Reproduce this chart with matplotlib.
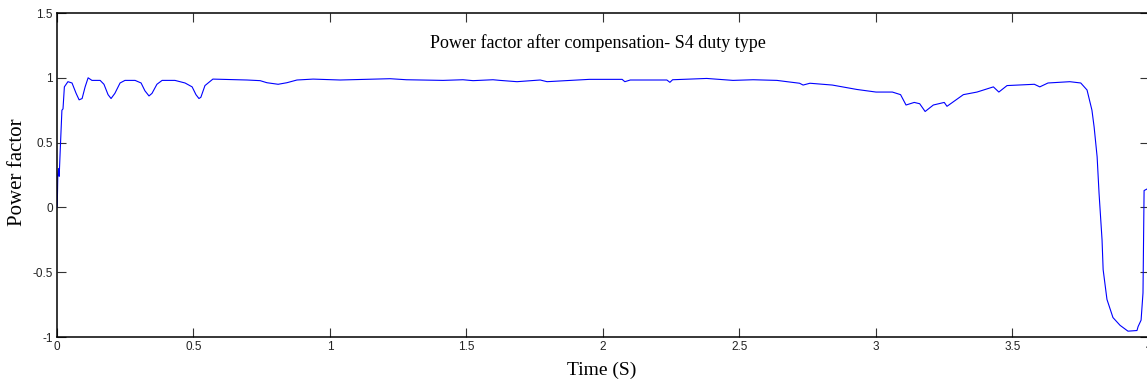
import numpy as np
import matplotlib.pyplot as plt

# Power factor trace (time in s, pf)
time_s = [0.000, 0.001, 0.003, 0.006, 0.008, 0.012, 0.018, 0.022, 0.027, 0.040,
          0.055, 0.070, 0.081, 0.092, 0.103, 0.114, 0.128, 0.158, 0.172, 0.187,
          0.198, 0.212, 0.231, 0.249, 0.286, 0.308, 0.322, 0.337, 0.348, 0.366,
          0.385, 0.432, 0.469, 0.495, 0.509, 0.520, 0.527, 0.542, 0.571, 0.696,
          0.744, 0.769, 0.810, 0.842, 0.879, 0.938, 1.037, 1.220, 1.280, 1.414,
          1.487, 1.524, 1.597, 1.623, 1.685, 1.770, 1.795, 1.950, 2.070, 2.080,
          2.100, 2.234, 2.245, 2.255, 2.380, 2.476, 2.550, 2.637, 2.674, 2.720,
          2.733, 2.758, 2.840, 2.930, 3.000, 3.060, 3.090, 3.110, 3.140, 3.160,
          3.180, 3.210, 3.250, 3.260, 3.280, 3.320, 3.370, 3.430, 3.450, 3.480,
          3.580, 3.600, 3.630, 3.710, 3.750, 3.773, 3.791, 3.799, 3.810, 3.817,
          3.828, 3.832, 3.846, 3.868, 3.894, 3.923, 3.956, 3.960, 3.971, 3.978,
          3.982, 4.000]
power_factor = [0.00, 0.02, 0.25, 0.30, 0.24, 0.45, 0.75, 0.76, 0.93, 0.97,
                0.96, 0.88, 0.83, 0.84, 0.93, 1.00, 0.98, 0.98, 0.95, 0.87,
                0.84, 0.88, 0.96, 0.98, 0.98, 0.96, 0.90, 0.86, 0.88, 0.95,
                0.98, 0.98, 0.96, 0.93, 0.87, 0.84, 0.85, 0.94, 0.99, 0.983,
                0.978, 0.962, 0.950, 0.962, 0.983, 0.990, 0.983, 0.993, 0.985, 0.980,
                0.985, 0.978, 0.985, 0.980, 0.970, 0.983, 0.970, 0.988, 0.988, 0.970,
                0.983, 0.983, 0.965, 0.985, 0.995, 0.980, 0.985, 0.980, 0.970, 0.958,
                0.944, 0.958, 0.944, 0.910, 0.890, 0.890, 0.870, 0.790, 0.810, 0.800,
                0.740, 0.790, 0.810, 0.780, 0.810, 0.870, 0.890, 0.930, 0.890, 0.940,
                0.950, 0.930, 0.960, 0.970, 0.960, 0.906, 0.750, 0.620, 0.390, 0.110,
                -0.250, -0.480, -0.710, -0.850, -0.910, -0.955, -0.950, -0.920, -0.870, -0.660,
                0.130, 0.150]

x_ticks = [0, 0.5, 1, 1.5, 2, 2.5, 3, 3.5, 4]
x_tick_labels = ['0', '0.5', '1', '1.5', '2', '2.5', '3', '3.5', '4']
y_ticks = [-1, -0.5, 0, 0.5, 1, 1.5]
y_tick_labels = ['-1', '-0.5', '0', '0.5', '1', '1.5']

fig = plt.figure(figsize=(11.47, 3.83), dpi=100)
ax = fig.add_axes([57 / 1147, 46 / 383, 1092 / 1147, 324 / 383])

ax.plot(time_s, power_factor, color='blue', lw=0.8)

ax.set_xlim(0, 4)
ax.set_ylim(-1, 1.5)
ax.set_xticks(x_ticks)
ax.set_xticklabels(x_tick_labels, fontfamily='Liberation Sans', fontsize=8.5, color='#222222')
ax.set_yticks(y_ticks)
ax.set_yticklabels(y_tick_labels, fontfamily='Liberation Sans', fontsize=8.5, color='#222222')
ax.tick_params(direction='in', top=True, right=True, length=6.5, width=0.8,
               color='#333333', pad=3)
for s in ax.spines.values():
    s.set_linewidth(1.1)

ax.set_xlabel('Time (S)', fontfamily='Liberation Serif', fontsize=14)
ax.xaxis.label.set_va('center')
ax.xaxis.set_label_coords(0.499, -0.102)
ax.set_ylabel('Power factor', fontfamily='Liberation Serif', fontsize=15)
ax.yaxis.label.set_va('center')
ax.yaxis.set_label_coords(-0.0366, 0.51)

ax.text(1.98, 1.27, 'Power factor after compensation- S4 duty type',
        fontfamily='Liberation Serif', fontsize=13, ha='center', va='center')

fig.savefig('out.png', dpi=100)
